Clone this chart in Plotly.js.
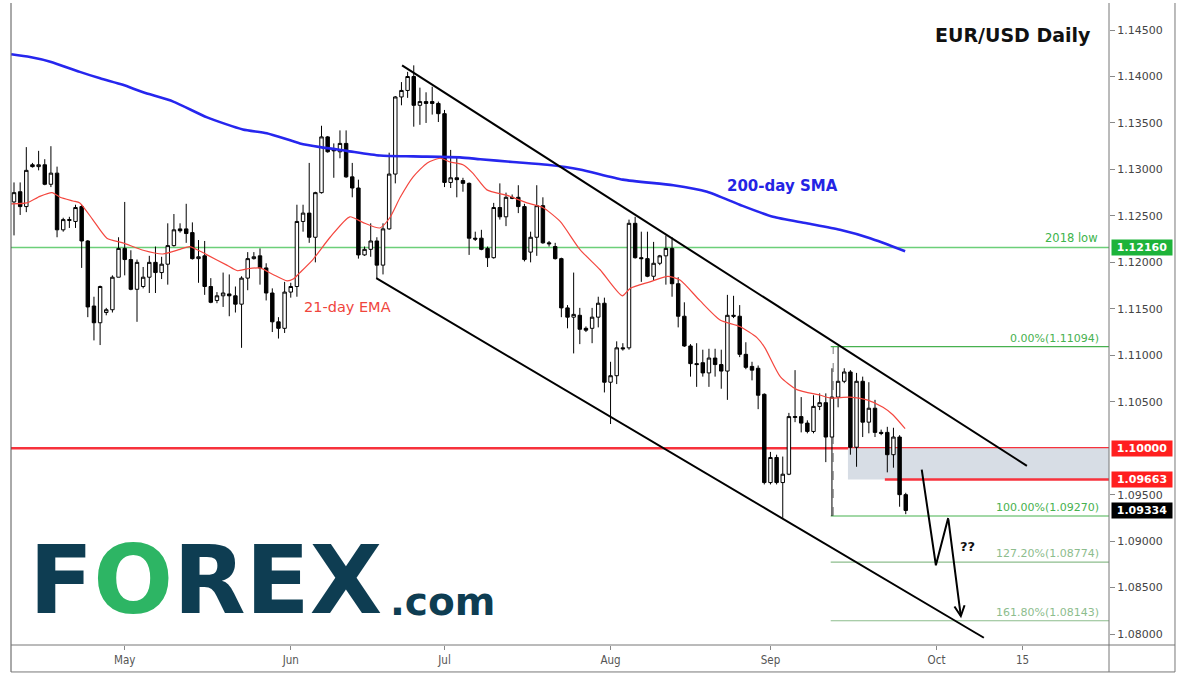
<!DOCTYPE html>
<html><head><meta charset="utf-8">
<script src="https://cdn.plot.ly/plotly-3.0.1.min.js"></script>
<style>html,body{margin:0;padding:0;background:#fff;}#chart{width:1181px;height:689px;}</style>
</head><body><div id="chart"></div>
<script>
// ---- data (EUR/USD daily) ----
const firstDate = '2019-04-10';
const opens = [1.1265,1.1276,1.1260,1.1305,1.1303,1.1305,1.1284,1.1296,1.1235,1.1245,
1.1244,1.1260,1.1223,1.1153,1.1135,1.1146,1.1149,1.1184,1.1215,1.1203,
1.1171,1.1174,1.1184,1.1200,1.1189,1.1198,1.1218,1.1236,1.1236,1.1232,
1.1204,1.1207,1.1174,1.1159,1.1164,1.1166,1.1164,1.1155,1.1183,1.1204,
1.1207,1.1194,1.1167,1.1136,1.1129,1.1168,1.1174,1.1244,1.1253,1.1227,
1.1275,1.1335,1.1322,1.1319,1.1328,1.1292,1.1280,1.1208,1.1214,1.1223,
1.1197,1.1236,1.1295,1.1378,1.1385,1.1400,1.1369,1.1373,1.1373,1.1371,
1.1360,1.1286,1.1291,1.1288,1.1285,1.1226,1.1226,1.1215,1.1205,1.1259,
1.1249,1.1270,1.1270,1.1260,1.1211,1.1227,1.1261,1.1221,1.1217,1.1204,
1.1151,1.1141,1.1143,1.1129,1.1129,1.1141,1.1156,1.1071,1.1078,1.1108,
1.1108,1.1242,1.1205,1.1204,1.1185,1.1199,1.1207,1.1215,1.1177,1.1142,
1.1110,1.1091,1.1092,1.1081,1.1097,1.1090,1.1083,1.1143,1.1142,1.1101,
1.1088,1.1086,1.1058,1.0963,1.0990,1.0963,1.0972,1.1033,1.1034,1.1027,
1.1018,1.1045,1.1049,1.1012,1.1055,1.1072,1.1082,1.1001,1.1072,1.1028,
1.1043,1.1017,1.1017,1.0993,1.1012,1.0950];
const highs = [1.1286,1.1286,1.1324,1.1307,1.1320,1.1311,1.1325,1.1303,1.1248,1.1249,
1.1262,1.1262,1.1224,1.1163,1.1175,1.1151,1.1186,1.1227,1.1265,1.1213,
1.1203,1.1195,1.1207,1.1217,1.1206,1.1242,1.1252,1.1242,1.1263,1.1243,
1.1224,1.1223,1.1183,1.1168,1.1189,1.1187,1.1174,1.1185,1.1211,1.1211,
1.1215,1.1199,1.1172,1.1141,1.1179,1.1178,1.1262,1.1262,1.1307,1.1276,
1.1347,1.1336,1.1328,1.1342,1.1342,1.1307,1.1289,1.1217,1.1242,1.1227,
1.1242,1.1318,1.1379,1.1394,1.1405,1.1412,1.1388,1.1383,1.1389,1.1373,
1.1364,1.1321,1.1313,1.1291,1.1286,1.1233,1.1235,1.1217,1.1264,1.1285,
1.1275,1.1273,1.1283,1.1263,1.1233,1.1283,1.1270,1.1223,1.1221,1.1205,
1.1154,1.1189,1.1151,1.1131,1.1151,1.1163,1.1162,1.1093,1.1115,1.1113,
1.1246,1.1249,1.1233,1.1233,1.1222,1.1208,1.1229,1.1227,1.1184,1.1157,
1.1112,1.1113,1.1106,1.1107,1.1107,1.1106,1.1165,1.1164,1.1154,1.1114,
1.1093,1.1089,1.1059,1.0996,1.0993,1.0991,1.1038,1.1084,1.1055,1.1030,
1.1057,1.1059,1.1059,1.1086,1.1109,1.1086,1.1084,1.1081,1.1077,1.1071,
1.1052,1.1020,1.1023,1.1022,1.1014,1.0952];
const lows = [1.1229,1.1251,1.1254,1.1302,1.1299,1.1283,1.1281,1.1227,1.1233,1.1237,
1.1237,1.1194,1.1141,1.1116,1.1111,1.1143,1.1146,1.1184,1.1186,1.1170,
1.1136,1.1172,1.1167,1.1167,1.1182,1.1176,1.1217,1.1232,1.1221,1.1203,
1.1178,1.1165,1.1156,1.1156,1.1152,1.1142,1.1146,1.1108,1.1170,1.1203,
1.1176,1.1159,1.1125,1.1118,1.1124,1.1162,1.1163,1.1233,1.1221,1.1200,
1.1274,1.1318,1.1291,1.1312,1.1291,1.1270,1.1204,1.1207,1.1206,1.1183,
1.1187,1.1235,1.1285,1.1369,1.1377,1.1346,1.1348,1.1350,1.1359,1.1351,
1.1281,1.1280,1.1270,1.1276,1.1208,1.1223,1.1213,1.1195,1.1204,1.1246,
1.1239,1.1268,1.1253,1.1201,1.1200,1.1207,1.1220,1.1217,1.1203,1.1141,
1.1129,1.1102,1.1112,1.1125,1.1113,1.1130,1.1060,1.1026,1.1069,1.1105,
1.1106,1.1204,1.1179,1.1184,1.1181,1.1197,1.1176,1.1163,1.1130,1.1109,
1.1077,1.1066,1.1077,1.1066,1.1077,1.1064,1.1052,1.1140,1.1098,1.1085,
1.1073,1.1042,1.0961,1.0961,1.0961,1.0925,1.0971,1.1028,1.1017,1.1016,
1.1016,1.1041,1.0985,1.0927,1.1044,1.1070,1.0993,1.0980,1.1012,1.1016,
1.1012,1.1014,1.0974,1.0979,1.0937,1.0929];
const closes = [1.1275,1.1260,1.1299,1.1303,1.1305,1.1284,1.1296,1.1235,1.1246,1.1246,
1.1259,1.1223,1.1152,1.1135,1.1174,1.1149,1.1184,1.1215,1.1203,1.1171,
1.1200,1.1184,1.1200,1.1189,1.1198,1.1218,1.1235,1.1234,1.1231,1.1204,
1.1206,1.1174,1.1157,1.1164,1.1167,1.1164,1.1155,1.1183,1.1204,1.1206,
1.1194,1.1167,1.1136,1.1129,1.1168,1.1174,1.1244,1.1253,1.1227,1.1275,
1.1335,1.1319,1.1320,1.1328,1.1292,1.1280,1.1208,1.1214,1.1223,1.1197,
1.1236,1.1295,1.1378,1.1385,1.1400,1.1369,1.1373,1.1371,1.1371,1.1360,
1.1286,1.1291,1.1289,1.1285,1.1226,1.1225,1.1214,1.1205,1.1259,1.1249,
1.1270,1.1269,1.1260,1.1203,1.1227,1.1261,1.1221,1.1220,1.1204,1.1151,
1.1141,1.1144,1.1128,1.1127,1.1141,1.1156,1.1071,1.1078,1.1108,1.1107,
1.1242,1.1205,1.1204,1.1185,1.1199,1.1207,1.1215,1.1177,1.1142,1.1110,
1.1091,1.1090,1.1081,1.1097,1.1090,1.1083,1.1143,1.1142,1.1101,1.1087,
1.1084,1.1057,1.0963,1.0990,1.0963,1.0972,1.1034,1.1034,1.1027,1.1018,
1.1045,1.1049,1.1012,1.1055,1.1072,1.1082,1.1001,1.1072,1.1028,1.1043,
1.1017,1.1016,1.0993,1.1012,1.0950,1.0933];

// moving averages, sampled along the drawn lines (bar position, price)
const smaX = [-0.45,2.6,5.9,10.7,14.0,17.7,21.0,25.9,31.4,37.2,41.1,46.5,49.8,54.1,59.5,64.9,72.5,75.8,81.1,86.7,92.0,99.0,107.2,112.7,118.0,123.4,128.9,134.3,139.2,144.9];
const smaY = [1.1424,1.1421,1.1416,1.1405,1.1398,1.1391,1.1383,1.1373,1.1356,1.1343,1.1339,1.1328,1.1324,1.1320,1.1315,1.1314,1.1313,1.1311,1.1308,1.1305,1.1300,1.1289,1.1283,1.1276,1.1262,1.1249,1.1242,1.1235,1.1226,1.1212];
const emaX = [-0.45,2.1,4.2,6.2,7.5,9.6,10.7,12.8,15.1,17.7,21.0,24.2,27.0,28.6,31.4,34.6,36.3,37.9,40.0,42.1,44.4,45.4,46.5,48.6,51.4,54.6,56.7,59.5,61.1,62.8,64.9,67.2,69.3,70.9,73.0,74.6,76.9,80.2,83.4,86.0,88.8,92.0,95.3,98.9,100.2,103.4,106.3,108.3,111.5,114.8,118.0,120.8,122.1,124.6,127.3,131.1,132.7,135.9,138.7,141.3,142.9,144.9];
const emaY = [1.1263,1.1264,1.1271,1.1275,1.1270,1.1266,1.1264,1.1246,1.1226,1.1221,1.1213,1.1209,1.1214,1.1217,1.1208,1.1197,1.1191,1.1193,1.1194,1.1187,1.1180,1.1182,1.1189,1.1203,1.1227,1.1249,1.1243,1.1237,1.1248,1.1270,1.1292,1.1307,1.1312,1.1308,1.1305,1.1296,1.1278,1.1272,1.1264,1.1259,1.1244,1.1214,1.1192,1.1164,1.1172,1.1179,1.1185,1.1181,1.1159,1.1138,1.1131,1.1119,1.1108,1.1077,1.1063,1.1057,1.1054,1.1055,1.1052,1.1044,1.1036,1.1021];

// tick labels
const tickDates = ['2019-05-01','2019-06-01','2019-07-01','2019-08-01','2019-09-01','2019-10-01','2019-10-15'];
const tickLabels = ['May','Jun','Jul','Aug','Sep','Oct','15'];
const priceTicks = [1.080,1.085,1.090,1.095,1.105,1.110,1.115,1.120,1.125,1.130,1.135,1.140,1.145];

// key levels
const low2018 = 1.12160;
const parity = 1.10000;
const support = 1.09663;
const lastPrice = 1.09334;
const fibLabels = ['0.00%','100.00%','127.20%','161.80%'];
const fibValues = [1.11094,1.09270,1.08774,1.08143];

// drawings (bar position, price)
const upperChannel = [[63.1,1.1412],[164.7,1.0981]];
const lowerChannel = [[58.9,1.1183],[157.7,1.0796]];
const pathArrow = [[147.6,1.0977],[149.9,1.0874],[151.9,1.0925],[154.0,1.0817]];
const fibStart = 132.8;
const zoneStart = 135.6;
const supportStart = 141.6;

// ---- build ----
const DAY = 86400000;
const dates = [];
(function(){ let t = Date.parse(firstDate+'T00:00:00Z');
  while (dates.length < opens.length) { const d = new Date(t); if (d.getUTCDay() !== 6) dates.push(d.toISOString().slice(0,10)); t += DAY; } })();
const idx = dates.map((d,i)=>i);
function dateToIdx(ds){
  for (let i=0;i<dates.length;i++) if (dates[i] >= ds) return i;
  const last = dates.length-1;
  return last + (Date.parse(ds+'T00:00:00Z') - Date.parse(dates[last]+'T00:00:00Z'))/DAY;
}
const tickVals = tickDates.map(dateToIdx);

const XR = [-0.49, 178.05];
const YR = [1.07882, 1.14791];
const FONT = 'DejaVu Sans, Verdana, sans-serif';

const traces = [
  {type:'scatter', mode:'lines', x:smaX, y:smaY, line:{color:'#2626ee', width:2.6, shape:'spline', smoothing:0.6}, hoverinfo:'skip'},
  {type:'scatter', mode:'lines', x:emaX, y:emaY, line:{color:'#f4473f', width:1.2, shape:'spline', smoothing:0.6}, hoverinfo:'skip'},
  {type:'candlestick', x:idx, open:opens, high:highs, low:lows, close:closes,
   increasing:{line:{color:'#000', width:1}, fillcolor:'#ffffff'},
   decreasing:{line:{color:'#000', width:1}, fillcolor:'#000000'},
   whiskerwidth:0, hoverinfo:'skip'},
  {type:'scatter', mode:'lines', x:pathArrow.slice(0,3).map(p=>p[0]), y:pathArrow.slice(0,3).map(p=>p[1]), line:{color:'#000', width:2}, hoverinfo:'skip'}
];

const shapes = [
  {type:'rect', layer:'below', xref:'x', yref:'y', x0:zoneStart, x1:XR[1], y0:support, y1:parity, fillcolor:'#d7dde5', line:{width:0}},
  {type:'line', layer:'below', xref:'paper', yref:'y', x0:0, x1:1, y0:low2018, y1:low2018, line:{color:'#6ccf79', width:1.6}},
  {type:'line', layer:'below', xref:'paper', yref:'y', x0:0, x1:1, y0:parity, y1:parity, line:{color:'#f7323c', width:2.6}},
  {type:'line', layer:'below', xref:'x', yref:'y', x0:supportStart, x1:XR[1], y0:support, y1:support, line:{color:'#f7323c', width:2.6}},
  {type:'line', layer:'below', xref:'x', yref:'y', x0:fibStart+0.4, x1:fibStart+0.4, y0:fibValues[1], y1:fibValues[0], line:{color:'#777', width:1, dash:'dash'}},
  {type:'line', xref:'x', yref:'y', x0:upperChannel[0][0], y0:upperChannel[0][1], x1:upperChannel[1][0], y1:upperChannel[1][1], line:{color:'#000', width:2}},
  {type:'line', xref:'x', yref:'y', x0:lowerChannel[0][0], y0:lowerChannel[0][1], x1:lowerChannel[1][0], y1:lowerChannel[1][1], line:{color:'#000', width:2}},
  // frame
  {type:'line', xref:'paper', yref:'paper', x0:0, x1:0, y0:-0.042, y1:1, line:{color:'#555', width:1}},
  {type:'line', xref:'paper', yref:'paper', x0:0, x1:1.0601, y0:0, y1:0, line:{color:'#777', width:1}},
  {type:'line', xref:'paper', yref:'paper', x0:0, x1:1.0601, y0:-0.042, y1:-0.042, line:{color:'#777', width:1}},
  {type:'line', xref:'paper', yref:'paper', x0:1, x1:1, y0:-0.042, y1:1, line:{color:'#777', width:1}},
  {type:'line', xref:'paper', yref:'paper', x0:1.0601, x1:1.0601, y0:-0.042, y1:1, line:{color:'#777', width:1}}
];
const fibColors = ['#47b14f','#47b14f','#8dbd8d','#8dbd8d'];
fibValues.forEach((v,i)=>{
  shapes.push({type:'line', layer:'below', xref:'x', yref:'y', x0:fibStart, x1:XR[1], y0:v, y1:v, line:{color:fibColors[i], width:1.2}});
});

const annotations = [
  {xref:'paper', yref:'paper', x:0.9854, y:0.9502, xanchor:'right', yanchor:'middle', showarrow:false,
   text:'<b>EUR/USD Daily</b>', font:{family:FONT, size:19, color:'#111'}},
  {xref:'x', yref:'y', x:125, y:1.1282, showarrow:false, text:'<b>200-day SMA</b>', font:{family:FONT, size:15, color:'#2424e4'}},
  {xref:'x', yref:'y', x:54.3, y:1.1152, showarrow:false, text:'21-day EMA', font:{family:FONT, size:14.5, color:'#f0453c'}},
  {xref:'paper', yref:'y', x:0.9918, y:low2018, xanchor:'right', yanchor:'bottom', yshift:0, showarrow:false, text:'2018 low', font:{family:FONT, size:11.5, color:'#3cb44b'}},
  {xref:'x', yref:'y', x:155.1, y:1.0894, showarrow:false, text:'<b>??</b>', font:{family:FONT, size:13, color:'#111'}},
  {xref:'x', yref:'y', axref:'x', ayref:'y', x:pathArrow[3][0], y:pathArrow[3][1], ax:pathArrow[2][0], ay:pathArrow[2][1],
   showarrow:true, arrowhead:5, arrowsize:1, arrowwidth:2, arrowcolor:'#000', text:'', standoff:0},
  // logo
  {xref:'paper', yref:'paper', x:0.0146, y:0.0997, xanchor:'left', yanchor:'middle', showarrow:false,
   text:'<b>F<span style="color:#2db564">O</span>REX</b>', font:{family:FONT, size:94, color:'#0e3d52'}},
  {xref:'paper', yref:'paper', x:0.3434, y:0.067, xanchor:'left', yanchor:'middle', showarrow:false,
   text:'<b>.com</b>', font:{family:FONT, size:39, color:'#0e3d52'}}
];
fibValues.forEach((v,i)=>{
  annotations.push({xref:'paper', yref:'y', x:0.9927, y:v, xanchor:'right', yanchor:'bottom', showarrow:false,
    text:fibLabels[i]+'('+v.toFixed(5)+')', font:{family:FONT, size:11, color:fibColors[i]}});
});
[[low2018,'#1db33a'],[parity,'#ff1f1f'],[support,'#ff1f1f'],[lastPrice,'#000000']].forEach(([v,c])=>{
  annotations.push({xref:'paper', yref:'y', x:1, xshift:2, y:v, xanchor:'left', yanchor:'middle', showarrow:false,
    text:'<b>'+v.toFixed(5)+'</b>', bgcolor:c, width:58, height:13, borderpad:1, align:'center',
    font:{family:FONT, size:11, color:'#fff'}});
});

const layout = {
  width:1181, height:689, margin:{l:11, r:72, t:3, b:44},
  paper_bgcolor:'#fff', plot_bgcolor:'#fff', showlegend:false, hovermode:false, boxgap:0.2,
  xaxis:{range:XR, type:'linear', showgrid:false, zeroline:false, rangeslider:{visible:false},
    tickvals:tickVals, ticktext:tickLabels, ticks:'outside', ticklen:4, tickcolor:'#888',
    tickfont:{family:'DejaVu Sans Condensed, Liberation Sans Narrow, sans-serif', size:11.5, color:'#555'}, showline:false},
  yaxis:{range:YR, side:'right', showgrid:false, zeroline:false, tickmode:'array', tickvals:priceTicks,
    ticktext:priceTicks.map(v=>v.toFixed(5)),
    ticks:'outside', ticklen:5, tickcolor:'#888', tickfont:{family:FONT, size:11, color:'#444'}, showline:false},
  shapes:shapes, annotations:annotations
};
Plotly.newPlot('chart', traces, layout, {staticPlot:true, displayModeBar:false});
</script></body></html>
